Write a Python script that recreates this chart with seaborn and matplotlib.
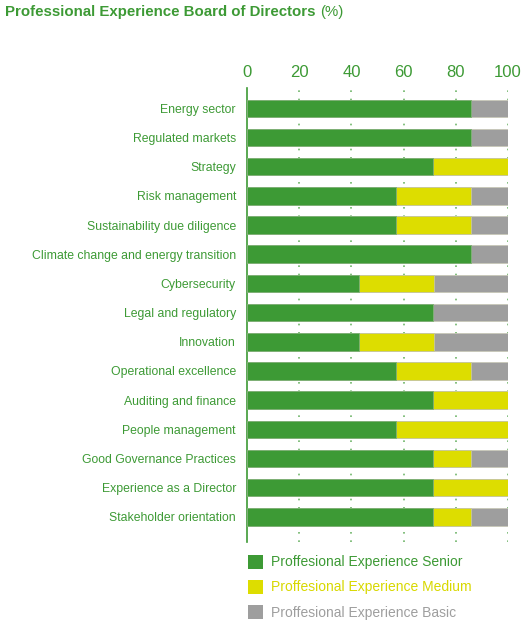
import matplotlib.pyplot as plt
from matplotlib.patches import Patch
import pandas as pd
import seaborn as sns

categories = [
    "Energy sector", "Regulated markets", "Strategy", "Risk management",
    "Sustainability due diligence", "Climate change and energy transition",
    "Cybersecurity", "Legal and regulatory", "Innovation",
    "Operational excellence", "Auditing and finance", "People management",
    "Good Governance Practices", "Experience as a Director",
    "Stakeholder orientation",
]
senior = [85.7, 85.7, 71.4, 57.1, 57.1, 85.7, 42.9, 71.4, 42.9, 57.1, 71.4, 57.1, 71.4, 71.4, 71.4]
medium = [0, 0, 28.6, 28.6, 28.6, 0, 28.6, 0, 28.6, 28.6, 28.6, 42.9, 14.3, 28.6, 14.3]
basic = [14.3, 14.3, 0, 14.3, 14.3, 14.3, 28.6, 28.6, 28.6, 14.3, 0, 0, 14.3, 0, 14.3]
ticks = [0, 20, 40, 60, 80, 100]
series = ["Proffesional Experience Senior", "Proffesional Experience Medium",
          "Proffesional Experience Basic"]

GREEN = "#3d9a35"
YELLOW = "#dddd00"
GREY = "#9e9e9e"
TXT = "#3d9a35"

df = pd.DataFrame({"cat": categories, "senior": senior, "medium": medium, "basic": basic})
df["c2"] = df["senior"] + df["medium"]
df["c3"] = df["c2"] + df["basic"]

sns.set_style("white")
plt.rcParams["font.family"] = ["Liberation Sans", "DejaVu Sans"]

fig = plt.figure(figsize=(5.26, 6.2), dpi=100)
ax = fig.add_axes([0.4696, 0.1258, 0.4962, 0.732])

# dotted grid behind the bars
for t in ticks[1:]:
    ax.axvline(t, color="#6fb56a", linestyle=(0, (1, 4)), linewidth=1.2, zorder=0)

# stacked bars: overlay cumulative totals
sns.barplot(data=df, x="c3", y="cat", color=GREY, width=0.6, saturation=1,
            edgecolor="#c8c8b8", linewidth=0.6, ax=ax, zorder=2)
sns.barplot(data=df, x="c2", y="cat", color=YELLOW, width=0.6, saturation=1,
            edgecolor="#c8c8a0", linewidth=0.6, ax=ax, zorder=3)
sns.barplot(data=df, x="senior", y="cat", color=GREEN, width=0.6, saturation=1,
            edgecolor="#7fb07a", linewidth=0.6, ax=ax, zorder=4)

ax.set_xlim(0, 100)
ax.set_ylim(14.86, -0.69)
ax.set_xticks(ticks)
ax.xaxis.tick_top()
ax.tick_params(axis="x", length=0, labelsize=12, labelcolor=TXT, pad=6)
ax.tick_params(axis="y", length=0, labelsize=8.8, labelcolor=TXT, pad=8)
ax.set_xlabel("")
ax.set_ylabel("")
for side in ["top", "right", "bottom"]:
    ax.spines[side].set_visible(False)
ax.spines["left"].set_color(GREEN)
ax.spines["left"].set_linewidth(1.2)

# title, with the unit in regular weight
title = fig.text(0.01, 0.981, "Professional Experience Board of Directors", color=TXT,
                 fontsize=10.8, fontweight="bold", va="center", ha="left")
fig.canvas.draw()
ax.annotate("(%)", xy=(1, 0.5), xycoords=title, xytext=(3, 0),
            textcoords="offset points", color=TXT, fontsize=10.8, va="center", ha="left")

# legend
handles = [Patch(facecolor=c, edgecolor="none") for c in (GREEN, YELLOW, GREY)]
leg = fig.legend(handles, series, loc="upper left", bbox_to_anchor=(0.46, 0.114),
                 frameon=False, fontsize=10, handlelength=1.15, handleheight=1.15,
                 handletextpad=0.55, labelspacing=0.75, borderaxespad=0)
for txt, c in zip(leg.get_texts(), (GREEN, "#d8d800", GREY)):
    txt.set_color(c)

plt.savefig("out.png", dpi=100)
